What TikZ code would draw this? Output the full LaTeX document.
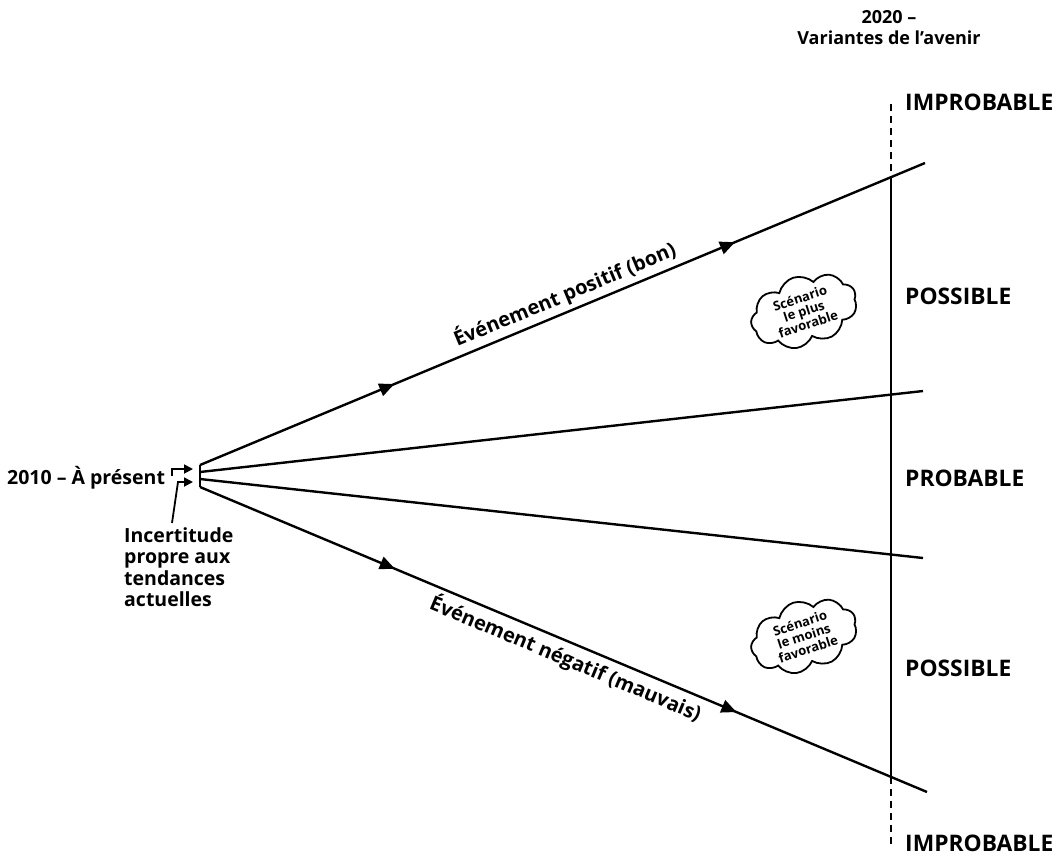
\documentclass[tikz,border=0pt]{standalone}
\usepackage{fontspec}
\setmainfont{Open Sans}
\usetikzlibrary{arrows.meta,shapes.symbols,decorations.markings}
\begin{document}
\begin{tikzpicture}[x=1pt,y=-1pt,
  fanline/.style={line width=2.4pt,
    postaction={decorate},
    decoration={markings,
      mark=at position #1 with {\arrow{Triangle[length=15pt,width=13pt]}},
      mark=at position 0.738 with {\arrow{Triangle[length=15pt,width=13pt]}}}},
  plainline/.style={line width=2.4pt},
  axisline/.style={line width=2.4pt},
  axisdash/.style={line width=2.4pt, dash pattern=on 7pt off 5pt},
  elbow/.style={line width=1.8pt, -{Triangle[length=9pt,width=9pt]}},
  lab/.style={font=\bfseries\fontsize{19.5}{21.5}\selectfont, inner sep=0pt},
  evlab/.style={font=\bfseries\fontsize{20}{23}\selectfont, inner sep=0pt, sloped},
  zone/.style={font=\bfseries\fontsize{22.8}{26}\selectfont, anchor=west, inner sep=0pt},
  hdr/.style={font=\bfseries\fontsize{18}{21}\selectfont, inner sep=0pt, align=center},
  cloudbox/.style={cloud, draw, line width=1.8pt, cloud puffs=9, cloud puff arc=120,
    aspect=2.0, inner sep=0pt, align=center,
    font=\bfseries\fontsize{13}{13.5}\selectfont}
]
\useasboundingbox (0,0) rectangle (1062,855);

% fan start / end points
\coordinate (o1) at (200,465);
\coordinate (o2) at (200,472);
\coordinate (o3) at (200,479);
\coordinate (o4) at (200,487);
\coordinate (e1) at (925,163);
\coordinate (e2) at (923,391);
\coordinate (e3) at (923,558);
\coordinate (e4) at (927,792);

% 2020 axis
\coordinate (vtop) at (891,104);
\coordinate (vhi) at (891,177);
\coordinate (vlo) at (891,777);
\coordinate (vbot) at (891,845);
\draw[axisdash] (vtop) -- (vhi);
\draw[axisline] (vhi) -- (vlo);
\draw[axisdash] (vlo) -- (vbot);

% fan
\draw[line width=2pt] (o1) -- (o4);
\draw[fanline=0.268] (o1) -- node[evlab, pos=0.512, above=4pt] {Événement positif (bon)} (e1);
\draw[plainline] (o2) -- (e2);
\draw[plainline] (o3) -- (e3);
\draw[fanline=0.268] (o4) -- node[evlab, pos=0.512, below=4pt] {Événement négatif (mauvais)} (e4);

% header
\node[hdr, anchor=north] (head) at (889,10) {2020 –\\Variantes de l’avenir};

% zone labels
\node[zone] (imp1) at (905,102) {IMPROBABLE};
\node[zone] (pos1) at (905,296) {POSSIBLE};
\node[zone] (prob) at (905,478) {PROBABLE};
\node[zone] (pos2) at (905,668) {POSSIBLE};
\node[zone] (imp2) at (905,843) {IMPROBABLE};

% present and uncertainty
\node[lab, anchor=base west] (present) at (7,484) {2010 – À présent};
\node[lab, anchor=north west, align=left] (unc) at (124,527) {Incertitude\\propre aux\\tendances\\actuelles};

\coordinate (a1s) at (172,476);
\coordinate (t1) at (193,469);
\coordinate (a2s) at (172,523);
\coordinate (a2m) at (178,482);
\coordinate (t2) at (193,482);
\draw[elbow] (a1s) |- (t1);
\draw[elbow] (a2s) -- (a2m) -- (t2);

% clouds
\node[cloudbox, rotate=18] (c1) at (804,311) {Scénario\\le plus\\favorable};
\node[cloudbox, rotate=18] (c2) at (804,636) {Scénario\\le moins\\favorable};
\end{tikzpicture}
\end{document}
